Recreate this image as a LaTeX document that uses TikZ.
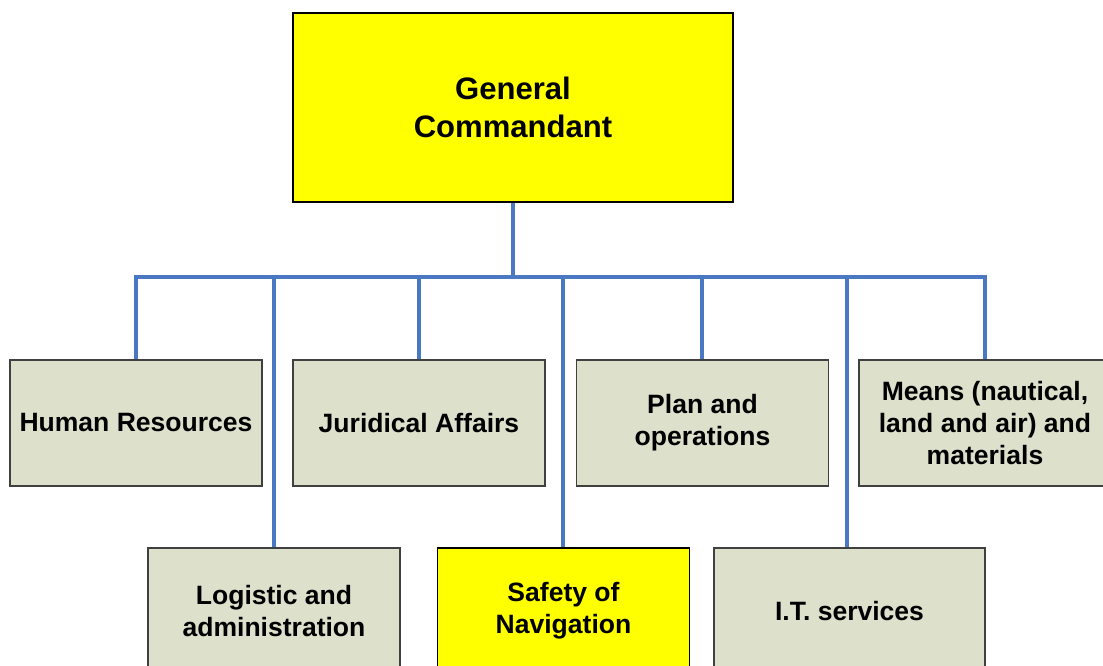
\documentclass[tikz,border=0pt]{standalone}
\usepackage{fontspec}
\setmainfont{Liberation Sans}
\definecolor{boxfill}{HTML}{DDE0CB}
\definecolor{boxline}{HTML}{404040}
\definecolor{linkblue}{HTML}{4A78C2}
\definecolor{topyellow}{HTML}{FFFF00}
\tikzset{
  unit/.style={draw=boxline, line width=0.8pt, fill=boxfill, align=center,
    minimum width=189pt, minimum height=94.5pt, inner sep=0pt,
    font=\bfseries\fontsize{19.9}{24}\selectfont},
  link/.style={draw=linkblue, line width=2.3pt}
}
\begin{document}
\begin{tikzpicture}[x=0.75pt,y=-0.75pt]
            % Frame
            \useasboundingbox (0,0) rectangle (1103,666);
            \clip (0,0) rectangle (1103,666);

            % Top box
            \node[unit, fill=topyellow, draw=black, minimum width=330pt, minimum height=141.75pt,
                  font=\bfseries\fontsize{23.3}{28.5}\selectfont] (gc) at (513,107.5) {General\\Commandant};
            \coordinate (bus) at (513,277);

            % First row
            \node[unit] (hr)    at (136,423)   {Human Resources};
            \node[unit] (jur)   at (419,423)   {Juridical Affairs};
            \node[unit] (plan)  at (702.5,423) {Plan and\\operations};
            \node[unit] (means) at (985,423)   {Means (nautical,\\land and air) and\\materials};

            % Second row
            \node[unit] (log)  at (274,611)   {Logistic and\\administration};
            \node[unit, fill=topyellow, draw=black] (nav) at (563.5,611) {Safety of\\Navigation};
            \node[unit, minimum width=203.25pt] (it) at (849.5,611) {I.T. services};

            % Links to the bus
            \draw[link] (gc.south) -- (bus);
            \foreach \n/\x in {hr/136, log/274, jur/419, nav/563, plan/702, it/847, means/985}
              \draw[link] (\n.north -| \x,0) |- (bus);
        \end{tikzpicture}
\end{document}
